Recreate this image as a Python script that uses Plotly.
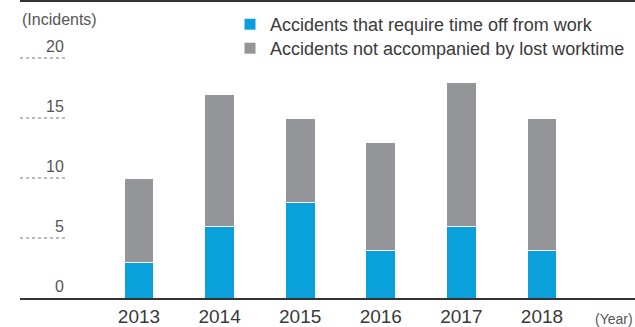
import plotly.graph_objects as go

years = ["2013", "2014", "2015", "2016", "2017", "2018"]
lost_time = [3, 6, 8, 4, 6, 4]
no_lost_time = [7, 11, 7, 9, 12, 11]
y_ticks = [0, 5, 10, 15, 20]

BLUE = "#0AA0DC"
GRAY = "#939598"
FONT = "Liberation Sans, Arial, sans-serif"
TXT = "#3a3a3a"

fig = go.Figure()
fig.add_trace(go.Bar(x=years, y=lost_time, name="Accidents that require time off from work",
                     marker=dict(color=BLUE, line=dict(color="white", width=1)), legend="legend"))
fig.add_trace(go.Bar(x=years, y=no_lost_time, name="Accidents not accompanied by lost worktime",
                     marker=dict(color=GRAY, line=dict(color="white", width=1)), legend="legend2"))

W, H = 635, 327
ml, mr, mt, mb = 20, 0, 1, 29
pw = W - ml - mr
ph = H - mt - mb
lab_x = 46 / pw

for t in y_ticks:
    if t > 0:
        fig.add_shape(type="line", xref="paper", yref="y", x0=0, x1=lab_x, y0=t, y1=t,
                      line=dict(color="#777", width=1, dash="dot"))
    fig.add_annotation(xref="paper", yref="y", x=lab_x, y=t, text=str(t), showarrow=False,
                       xanchor="right", yanchor="bottom", yshift=1,
                       font=dict(family=FONT, size=16, color="#555"))

fig.add_shape(type="line", xref="paper", yref="paper", x0=0, x1=1, y0=1, y1=1,
              line=dict(color="#333", width=2))

fig.add_annotation(xref="paper", yref="y", x=0, y=23.2, text="(Incidents)", showarrow=False,
                   xanchor="left", yanchor="middle", font=dict(family=FONT, size=16, color="#555"))
fig.add_annotation(xref="paper", yref="paper", x=1, y=0, yshift=-21, text="(Year)", showarrow=False,
                   xanchor="right", yanchor="middle", font=dict(family=FONT, size=14, color="#555"))

leg_common = dict(xanchor="left", yanchor="top", traceorder="normal",
                  font=dict(family=FONT, size=18, color=TXT),
                  bgcolor="rgba(0,0,0,0)", tracegroupgap=0, itemwidth=30)
fig.update_layout(
    width=W, height=H,
    margin=dict(l=ml, r=mr, t=mt, b=mb),
    barmode="stack", bargap=0.63,
    plot_bgcolor="white", paper_bgcolor="white",
    showlegend=True,
    legend=dict(x=(230 - ml) / pw, y=1 - 5 / ph, **leg_common),
    legend2=dict(x=(230 - ml) / pw, y=1 - 29 / ph, **leg_common),
    xaxis=dict(range=[-1.476, 6.154], showline=True, linecolor="#333", linewidth=1.5,
               ticks="", showgrid=False, tickfont=dict(family=FONT, size=19, color=TXT)),
    yaxis=dict(range=[0, 24.75], showticklabels=False, showgrid=False, zeroline=False, ticks=""),
)

fig.write_html("out.html", config={"displayModeBar": False},
               post_script="document.body.style.margin='0';")
